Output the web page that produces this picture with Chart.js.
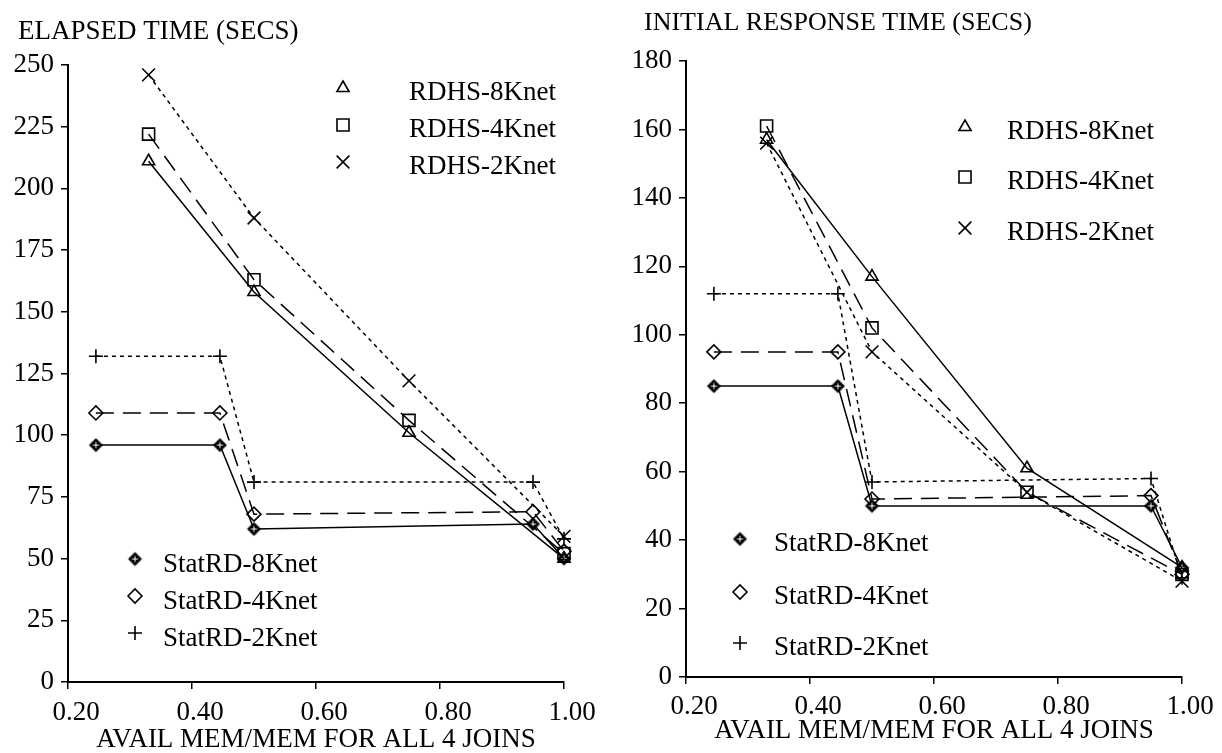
<!DOCTYPE html>
<html>
<head>
<meta charset="utf-8">
<script src="https://cdn.jsdelivr.net/npm/chart.js@4/dist/chart.umd.min.js"></script>
<style>
  html, body { margin: 0; padding: 0; background: #fff; }
  #wrap { position: relative; width: 1222px; height: 753px; }
  canvas { position: absolute; top: 0; }
</style>
</head>
<body>
<div id="wrap">
  <canvas id="elapsed" width="611" height="753" style="left:0"></canvas>
  <canvas id="initial" width="611" height="753" style="left:611px"></canvas>
</div>
<script>
// ── Data ──────────────────────────────────────────────────────────
const statX = [0.245, 0.445, 0.5, 0.95, 1.0];
const rdhsX = [0.33, 0.5, 0.75, 1.0];

const rdhsNames = ['RDHS-8Knet', 'RDHS-4Knet', 'RDHS-2Knet'];
const statNames = ['StatRD-8Knet', 'StatRD-4Knet', 'StatRD-2Knet'];

// elapsed time (secs)
const elapsedRdhs8 = [211, 158, 101, 50];
const elapsedRdhs4 = [222, 163, 106, 52];
const elapsedRdhs2 = [246, 188, 122, 59];
const elapsedStat8 = [96, 96, 62, 64, 50];
const elapsedStat4 = [109, 109, 68, 69, 53];
const elapsedStat2 = [132, 132, 81, 81, 58];

// initial response time (secs)
const initialRdhs8 = [157, 117, 61, 32];
const initialRdhs4 = [161, 102, 54, 30];
const initialRdhs2 = [156, 95, 54, 28];
const initialStat8 = [85, 85, 50, 50, 32];
const initialStat4 = [95, 95, 52, 53, 30];
const initialStat2 = [112, 112, 57, 58, 29];

// ── Styles ────────────────────────────────────────────────────────
const FONT = '"Liberation Serif", "Times New Roman", serif';
const dashes = [[], [18, 9], [4, 4]];   // 8K solid, 4K long dash, 2K short dash

// filled diamond with a small cross, as used for StatRD-8Knet
function diamondCross() {
  const c = document.createElement('canvas');
  c.width = 17; c.height = 17;
  const g = c.getContext('2d');
  g.beginPath();
  g.moveTo(8.5, 1.5); g.lineTo(15.5, 8.5); g.lineTo(8.5, 15.5); g.lineTo(1.5, 8.5); g.closePath();
  g.fillStyle = '#000'; g.fill();
  g.strokeStyle = '#fff'; g.lineWidth = 1;
  g.beginPath();
  g.moveTo(8.5, 5.5); g.lineTo(8.5, 11.5);
  g.moveTo(5.5, 8.5); g.lineTo(11.5, 8.5);
  g.stroke();
  return c;
}
const stat8Marker = diamondCross();

const rdhsMarkers = [
  { pointStyle: 'triangle', pointRadius: 7 },
  { pointStyle: 'rect', pointRadius: 8.5 },
  { pointStyle: 'crossRot', pointRadius: 9 }
];
const statMarkers = [
  { pointStyle: stat8Marker, pointRadius: 8 },
  { pointStyle: 'rectRot', pointRadius: 7 },
  { pointStyle: 'cross', pointRadius: 7 }
];

function series(xs, ys) {
  return xs.map((x, i) => ({ x, y: ys[i] }));
}

function makeDatasets(rdhs, stat) {
  const sets = [];
  rdhs.forEach((ys, i) => sets.push(Object.assign({
    label: rdhsNames[i],
    data: series(rdhsX, ys),
    borderDash: dashes[i]
  }, rdhsMarkers[i])));
  stat.forEach((ys, i) => sets.push(Object.assign({
    label: statNames[i],
    data: series(statX, ys),
    borderDash: dashes[i]
  }, statMarkers[i])));
  return sets.map(s => Object.assign(s, {
    borderColor: '#000',
    borderWidth: 1.5,
    pointBorderColor: '#000',
    pointBackgroundColor: 'rgba(0,0,0,0)',
    pointBorderWidth: 1.6,
    tension: 0,
    clip: false
  }));
}

// ── Title + split legends plugin ──────────────────────────────────
function drawMarker(ctx, ds, x, y) {
  ctx.save();
  ctx.strokeStyle = '#000';
  ctx.fillStyle = ds.pointBackgroundColor;
  ctx.lineWidth = ds.pointBorderWidth;
  ctx.setLineDash([]);
  Chart.helpers.drawPoint(ctx, {
    pointStyle: ds.pointStyle, radius: ds.pointRadius, rotation: 0, borderWidth: ds.pointBorderWidth
  }, x, y);
  ctx.restore();
}

const decorPlugin = {
  id: 'decor',
  afterDraw(chart, args, opts) {
    const ctx = chart.ctx;
    ctx.save();
    ctx.fillStyle = '#000';
    ctx.textBaseline = 'middle';
    ctx.textAlign = 'left';
    ctx.font = opts.titleSize + 'px ' + FONT;
    ctx.fillText(opts.title, opts.titleX, opts.titleY);
    ctx.font = '27px ' + FONT;
    opts.legends.forEach(group => {
      group.rows.forEach((rowY, i) => {
        const ds = chart.data.datasets[group.first + i];
        drawMarker(ctx, ds, group.markerX, rowY);
        ctx.fillText(ds.label, group.textX, rowY + group.textDy);
      });
    });
    ctx.restore();
  }
};

// ── Chart factory ─────────────────────────────────────────────────
function buildChart(id, cfg) {
  const tickFont = { family: FONT, size: 27 };
  return new Chart(document.getElementById(id), {
    type: 'line',
    data: { datasets: makeDatasets(cfg.rdhs, cfg.stat) },
    options: {
      responsive: false,
      animation: false,
      events: [],
      layout: { autoPadding: false, padding: { left: 0, top: cfg.top, right: cfg.right, bottom: 0 } },
      plugins: {
        legend: { display: false },
        tooltip: { enabled: false },
        decor: cfg.decor
      },
      scales: {
        x: {
          type: 'linear',
          min: 0.2,
          max: 1.0,
          afterFit: s => { s.height = cfg.xHeight; },
          afterBuildTicks: s => { s.ticks = [0.2, 0.4, 0.6, 0.8, 1.0].map(v => ({ value: v })); },
          ticks: {
            color: '#000', font: tickFont, padding: cfg.xLabelPad, labelOffset: 8,
            maxRotation: 0, autoSkip: false,
            callback: v => Number(v).toFixed(2)
          },
          grid: { drawOnChartArea: false, drawTicks: true, tickLength: 7, color: '#000', lineWidth: 1.5 },
          border: { display: true, color: '#000', width: 2 },
          title: {
            display: true, text: 'AVAIL MEM/MEM FOR ALL 4 JOINS', color: '#000',
            font: { family: FONT, size: 27, lineHeight: 1 },
            padding: { top: 0, bottom: cfg.titlePad }
          }
        },
        y: {
          min: 0,
          max: cfg.yMax,
          afterFit: s => { s.width = cfg.yWidth; },
          ticks: { stepSize: cfg.yStep, color: '#000', font: tickFont, padding: 7 },
          grid: { drawOnChartArea: false, drawTicks: true, tickLength: 7, color: '#000', lineWidth: 1.5 },
          border: { display: true, color: '#000', width: 2 }
        }
      }
    },
    plugins: [decorPlugin]
  });
}

buildChart('elapsed', {
  rdhs: [elapsedRdhs8, elapsedRdhs4, elapsedRdhs2],
  stat: [elapsedStat8, elapsedStat4, elapsedStat2],
  yMax: 250, yStep: 25,
  top: 65, right: 47, yWidth: 68, xHeight: 71, titlePad: 0, xLabelPad: 8,
  decor: {
    title: 'ELAPSED TIME (SECS)', titleX: 18, titleY: 32, titleSize: 27,
    legends: [
      { first: 0, markerX: 343, textX: 409, textDy: 5, rows: [88, 125, 162] },
      { first: 3, markerX: 135, textX: 163, textDy: 6, rows: [559, 596, 633] }
    ]
  }
});

buildChart('initial', {
  rdhs: [initialRdhs8, initialRdhs4, initialRdhs2],
  stat: [initialStat8, initialStat4, initialStat2],
  yMax: 180, yStep: 20,
  top: 61, right: 40, yWidth: 75, xHeight: 76, titlePad: 9, xLabelPad: 7,
  decor: {
    title: 'INITIAL RESPONSE TIME (SECS)', titleX: 33, titleY: 23, titleSize: 26,
    legends: [
      { first: 0, markerX: 354, textX: 396, textDy: 5, rows: [127, 177, 228] },
      { first: 3, markerX: 129, textX: 163, textDy: 5, rows: [539, 592, 643] }
    ]
  }
});
</script>
</body>
</html>
